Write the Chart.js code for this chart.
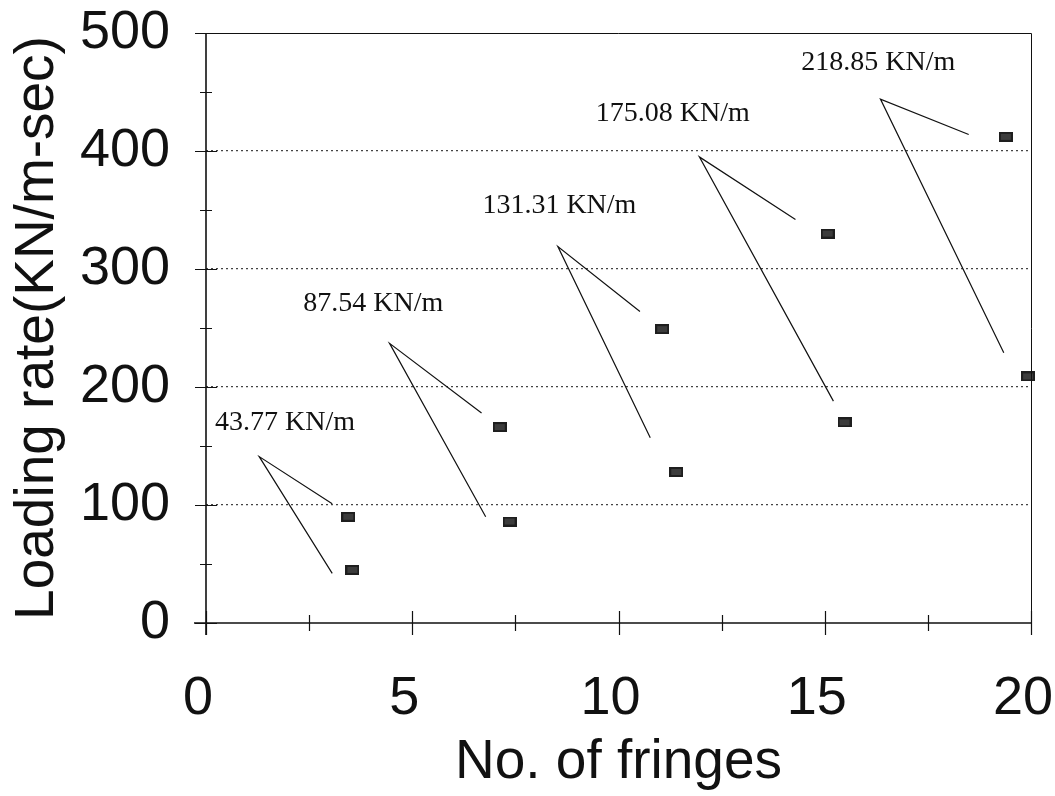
<!DOCTYPE html>
<html>
<head>
<meta charset="utf-8">
<script src="https://cdn.jsdelivr.net/npm/chart.js@4/dist/chart.umd.min.js"></script>
<style>
  html, body { margin: 0; padding: 0; background: #fff; }
  #wrap { width: 1055px; height: 796px; }
</style>
</head>
<body>
<div id="wrap"><canvas id="rateChart" width="1055" height="796"></canvas></div>
<script>
// loading rate vs. number of fringes, two readings per load level
const loadLabels = ['43.77 KN/m', '87.54 KN/m', '131.31 KN/m', '175.08 KN/m', '218.85 KN/m'];
const fringesA = [3.45, 7.12, 11.06, 15.07, 19.39];
const rateA = [90, 166, 249, 330, 412];
const fringesB = [3.55, 7.36, 11.40, 15.48, 19.93];
const rateB = [45, 86, 128, 170, 209];

// annotation anchors (data units): label, apex of the leader, and the two leader ends
const labelX = [0.22, 2.36, 6.70, 9.45, 14.43];
const labelY = [169.5, 271, 354, 432, 475];
const apexX = [1.29, 4.45, 8.53, 11.96, 16.35];
const apexY = [141, 237, 319, 395, 444];
const endAX = [3.06, 6.68, 10.52, 14.29, 18.49];
const endAY = [101, 178, 264, 342, 414];
const endBX = [3.06, 6.78, 10.77, 15.21, 19.34];
const endBY = [42, 90, 157, 188, 229];

const xTicks = [0, 5, 10, 15, 20];
const yTicks = [0, 100, 200, 300, 400, 500];

document.addEventListener('DOMContentLoaded', () => {
    // small filled rectangle used as the marker
    const marker = document.createElement('canvas');
    marker.width = 14;
    marker.height = 10;
    const mctx = marker.getContext('2d');
    mctx.fillStyle = '#1e1e1e';
    mctx.fillRect(0, 0, 14, 10);
    mctx.fillStyle = 'rgba(90,90,90,0.5)';
    mctx.fillRect(2, 2, 10, 6);

    const toPoints = (xs, ys) => xs.map((x, i) => ({ x: x, y: ys[i] }));

    // frame, crossing tick marks and minor ticks
    const framePlugin = {
        id: 'frame',
        afterDraw(chart) {
            const { ctx, chartArea: a, scales: { x, y } } = chart;
            ctx.save();
            ctx.strokeStyle = '#111';
            ctx.lineWidth = 1;
            ctx.beginPath();
            ctx.moveTo(a.left, a.top + 0.5);
            ctx.lineTo(a.right + 0.5, a.top + 0.5);
            ctx.lineTo(a.right + 0.5, a.bottom);
            ctx.stroke();

            ctx.lineWidth = 1.6;
            ctx.beginPath();
            ctx.moveTo(a.left - 12, a.bottom);
            ctx.lineTo(a.right, a.bottom);
            ctx.moveTo(a.left, a.top);
            ctx.lineTo(a.left, a.bottom + 12);
            ctx.stroke();

            ctx.lineWidth = 1.2;
            ctx.beginPath();
            for (let v = 0; v <= 20; v += 2.5) {
                const px = Math.round(x.getPixelForValue(v)) + 0.5;
                const len = v % 5 === 0 ? 12 : 8;
                ctx.moveTo(px, a.bottom - len);
                ctx.lineTo(px, a.bottom + len);
            }
            for (let v = 0; v <= 500; v += 50) {
                const py = Math.round(y.getPixelForValue(v)) + 0.5;
                const len = v % 100 === 0 ? 11 : 6;
                ctx.moveTo(a.left - len, py);
                ctx.lineTo(a.left + len, py);
            }
            ctx.stroke();
            ctx.restore();
        }
    };

    // load labels with their two leader lines
    const leaderPlugin = {
        id: 'leaders',
        afterDatasetsDraw(chart) {
            const { ctx, scales: { x, y } } = chart;
            ctx.save();
            ctx.strokeStyle = '#111';
            ctx.lineWidth = 1.2;
            loadLabels.forEach((txt, i) => {
                const ax = x.getPixelForValue(apexX[i]);
                const ay = y.getPixelForValue(apexY[i]);
                ctx.beginPath();
                ctx.moveTo(x.getPixelForValue(endAX[i]), y.getPixelForValue(endAY[i]));
                ctx.lineTo(ax, ay);
                ctx.lineTo(x.getPixelForValue(endBX[i]), y.getPixelForValue(endBY[i]));
                ctx.stroke();
            });
            ctx.fillStyle = '#111';
            ctx.font = '28px "Liberation Serif", "Times New Roman", serif';
            ctx.textAlign = 'left';
            ctx.textBaseline = 'middle';
            loadLabels.forEach((txt, i) => {
                ctx.fillText(txt, x.getPixelForValue(labelX[i]), y.getPixelForValue(labelY[i]));
            });
            ctx.restore();
        }
    };

    const ctx = document.getElementById('rateChart');
    new Chart(ctx, {
        type: 'scatter',
        data: {
            datasets: [
                {
                    label: 'upper',
                    data: toPoints(fringesA, rateA),
                    pointStyle: marker,
                    clip: false
                },
                {
                    label: 'lower',
                    data: toPoints(fringesB, rateB),
                    pointStyle: marker,
                    clip: false
                }
            ]
        },
        options: {
            responsive: false,
            animation: false,
            layout: { padding: { top: 33, right: 24, left: 0, bottom: 0 } },
            plugins: {
                legend: { display: false },
                tooltip: { enabled: false }
            },
            scales: {
                x: {
                    type: 'linear',
                    min: 0,
                    max: 20,
                    afterBuildTicks: (scale) => { scale.ticks = xTicks.map(v => ({ value: v })); },
                    afterFit: (scale) => {
                        scale.height = 173;
                        scale.paddingLeft = 0;
                        scale.paddingRight = 0;
                    },
                    grid: { display: false },
                    border: { display: false },
                    ticks: {
                        color: '#111',
                        padding: 36,
                        labelOffset: -8,
                        maxRotation: 0,
                        font: { family: '"Liberation Sans", Arial, sans-serif', size: 54 }
                    },
                    title: {
                        display: true,
                        text: 'No. of fringes',
                        color: '#111',
                        padding: 0,
                        font: { family: '"Liberation Sans", Arial, sans-serif', size: 55, lineHeight: 1.2 }
                    }
                },
                y: {
                    type: 'linear',
                    min: 0,
                    max: 500,
                    afterBuildTicks: (scale) => { scale.ticks = yTicks.map(v => ({ value: v })); },
                    afterFit: (scale) => {
                        scale.width = 206;
                        scale.paddingTop = 0;
                        scale.paddingBottom = 0;
                    },
                    grid: {
                        drawTicks: false,
                        color: (c) => (c.tick && (c.tick.value === 0 || c.tick.value === 500)) ? 'rgba(0,0,0,0)' : '#444',
                        lineWidth: 1.2
                    },
                    border: { display: false, dash: [2, 3] },
                    ticks: {
                        color: '#111',
                        padding: 36,
                        font: { family: '"Liberation Sans", Arial, sans-serif', size: 54 }
                    },
                    title: {
                        display: true,
                        text: 'Loading rate(KN/m-sec)',
                        color: '#111',
                        padding: { top: 10, bottom: 0 },
                        font: { family: '"Liberation Sans", Arial, sans-serif', size: 55, lineHeight: 1.0 }
                    }
                }
            }
        },
        plugins: [framePlugin, leaderPlugin]
    });
});
</script>
</body>
</html>
